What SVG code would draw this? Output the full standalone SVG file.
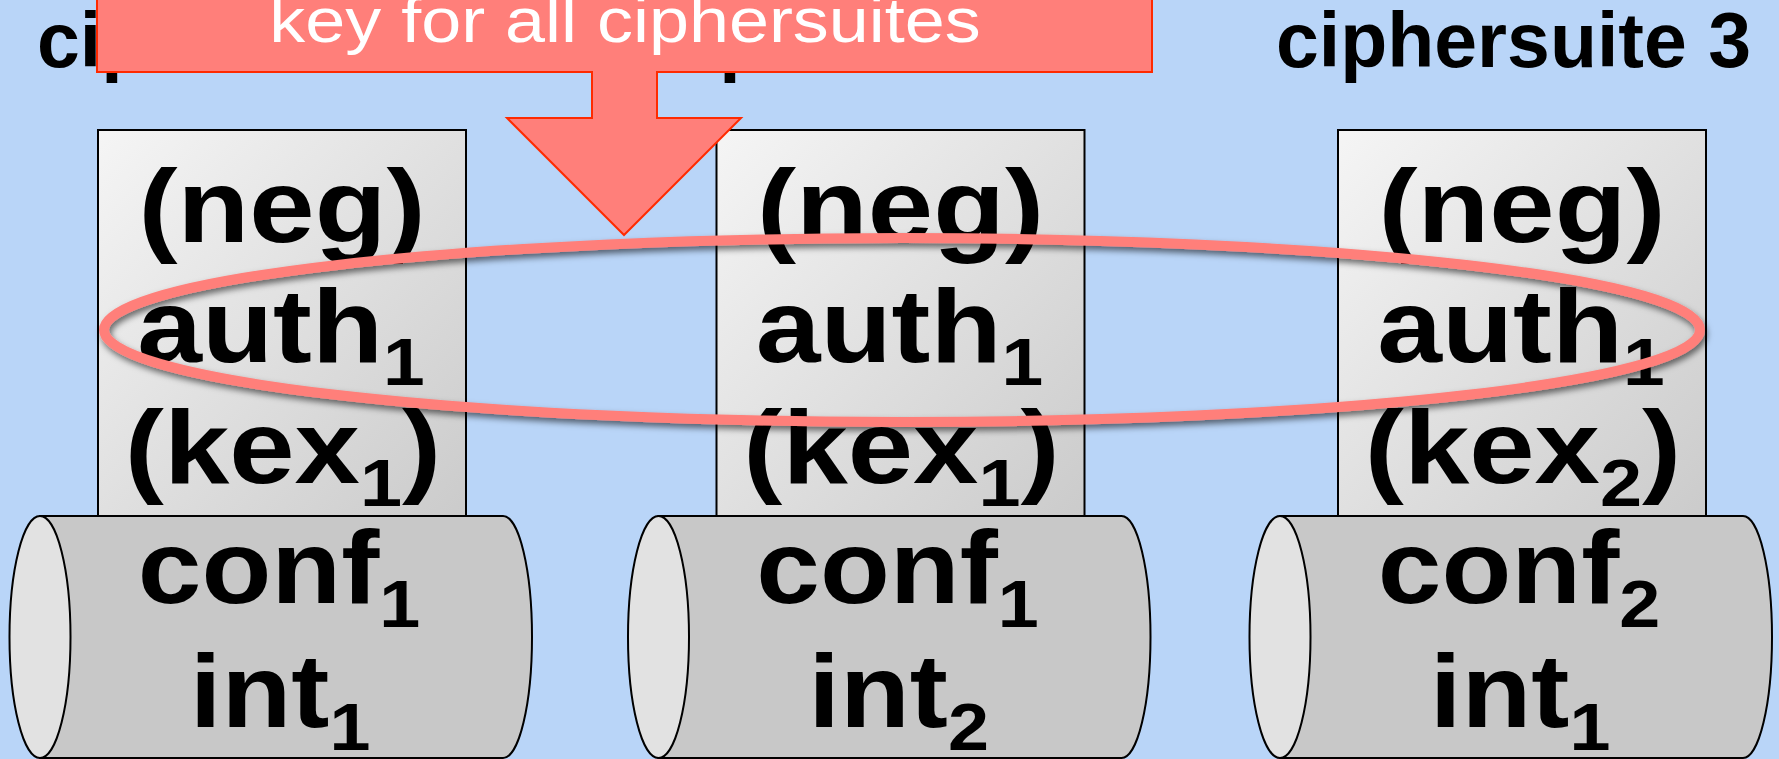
<svg xmlns="http://www.w3.org/2000/svg" width="1779" height="759" viewBox="0 0 1779 759">
<defs>
<linearGradient id="rg" x1="0" y1="0" x2="1" y2="1">
<stop offset="0" stop-color="#f5f5f5"/>
<stop offset="1" stop-color="#cbcbcb"/>
</linearGradient>
<filter id="sh" x="-5%" y="-20%" width="110%" height="140%">
<feDropShadow dx="2" dy="4" stdDeviation="3" flood-color="#000" flood-opacity="0.55"/>
</filter>
</defs>
<style>
.bg{fill:#b9d5f8}
.hdr{font-family:"Liberation Sans",Arial,sans-serif;font-weight:bold;font-size:77px;fill:#000}
.big{font-family:"Liberation Sans",Arial,sans-serif;font-weight:bold;font-size:104px;fill:#000;text-anchor:middle}
.sub{font-size:67px}
.box{fill:url(#rg);stroke:#000;stroke-width:2}
.cyl{fill:#c8c8c8;stroke:#000;stroke-width:2}
.cap{fill:#e2e2e2;stroke:#000;stroke-width:2}
.ring{fill:none;stroke:#ff7f7a;stroke-width:10}
.call{fill:#ff7f7a;stroke:#ff2a00;stroke-width:2}
.ctext{font-family:"Liberation Sans",Arial,sans-serif;font-size:62px;fill:#fff;text-anchor:middle}
</style>
<rect class="bg" x="0" y="0" width="1779" height="759"/>

<g id="headers">
<text class="hdr" x="37" y="67">ciphersuite 1</text>
<text class="hdr" x="655" y="67">ciphersuite 2</text>
<text class="hdr" x="1276" y="67">ciphersuite 3</text>
</g>

<g id="suite1">
<rect class="box" x="98" y="130" width="368" height="386"/>
<path class="cyl" d="M40,516 H503 A29,121 0 0 1 503,758 H40 Z"/>
<ellipse class="cap" cx="40" cy="637" rx="30.5" ry="121"/>
<text class="big" transform="translate(282,242) scale(1.13,1)">(neg)</text>
<text class="big" transform="translate(281,362) scale(1.12,1)">auth<tspan class="sub" dy="23">1</tspan></text>
<text class="big" transform="translate(283,483) scale(1.13,1)">(kex<tspan class="sub" dy="23">1</tspan><tspan dy="-23">)</tspan></text>
<text class="big" transform="translate(279,603) scale(1.1,1)">conf<tspan class="sub" dy="24">1</tspan></text>
<text class="big" transform="translate(280,727) scale(1.1,1)">int<tspan class="sub" dy="23">1</tspan></text>
</g>

<g id="suite2">
<rect class="box" x="716.5" y="130" width="368" height="386"/>
<path class="cyl" d="M658.5,516 H1121.5 A29,121 0 0 1 1121.5,758 H658.5 Z"/>
<ellipse class="cap" cx="658.5" cy="637" rx="30.5" ry="121"/>
<text class="big" transform="translate(900.5,242) scale(1.13,1)">(neg)</text>
<text class="big" transform="translate(899.5,362) scale(1.12,1)">auth<tspan class="sub" dy="23">1</tspan></text>
<text class="big" transform="translate(901.5,483) scale(1.13,1)">(kex<tspan class="sub" dy="23">1</tspan><tspan dy="-23">)</tspan></text>
<text class="big" transform="translate(897.5,603) scale(1.1,1)">conf<tspan class="sub" dy="24">1</tspan></text>
<text class="big" transform="translate(898.5,727) scale(1.1,1)">int<tspan class="sub" dy="23">2</tspan></text>
</g>

<g id="suite3">
<rect class="box" x="1338" y="130" width="368" height="386"/>
<path class="cyl" d="M1280,516 H1743 A29,121 0 0 1 1743,758 H1280 Z"/>
<ellipse class="cap" cx="1280" cy="637" rx="30.5" ry="121"/>
<text class="big" transform="translate(1522,242) scale(1.13,1)">(neg)</text>
<text class="big" transform="translate(1521,362) scale(1.12,1)">auth<tspan class="sub" dy="23">1</tspan></text>
<text class="big" transform="translate(1523,483) scale(1.13,1)">(kex<tspan class="sub" dy="23">2</tspan><tspan dy="-23">)</tspan></text>
<text class="big" transform="translate(1519,603) scale(1.1,1)">conf<tspan class="sub" dy="24">2</tspan></text>
<text class="big" transform="translate(1520,727) scale(1.1,1)">int<tspan class="sub" dy="23">1</tspan></text>
</g>

<g id="connectors">
<g id="highlight">
<ellipse class="ring" cx="902" cy="330" rx="798" ry="92" filter="url(#sh)"/>
</g>
<g id="callout">
<path class="call" d="M97,-10 H1152 V72 H657 V118 H741 L624,235 L507,118 H592 V72 H97 Z"/>
<text class="ctext" transform="translate(625,42) scale(1.16,1)">key for all ciphersuites</text>
</g>
</g>
</svg>
